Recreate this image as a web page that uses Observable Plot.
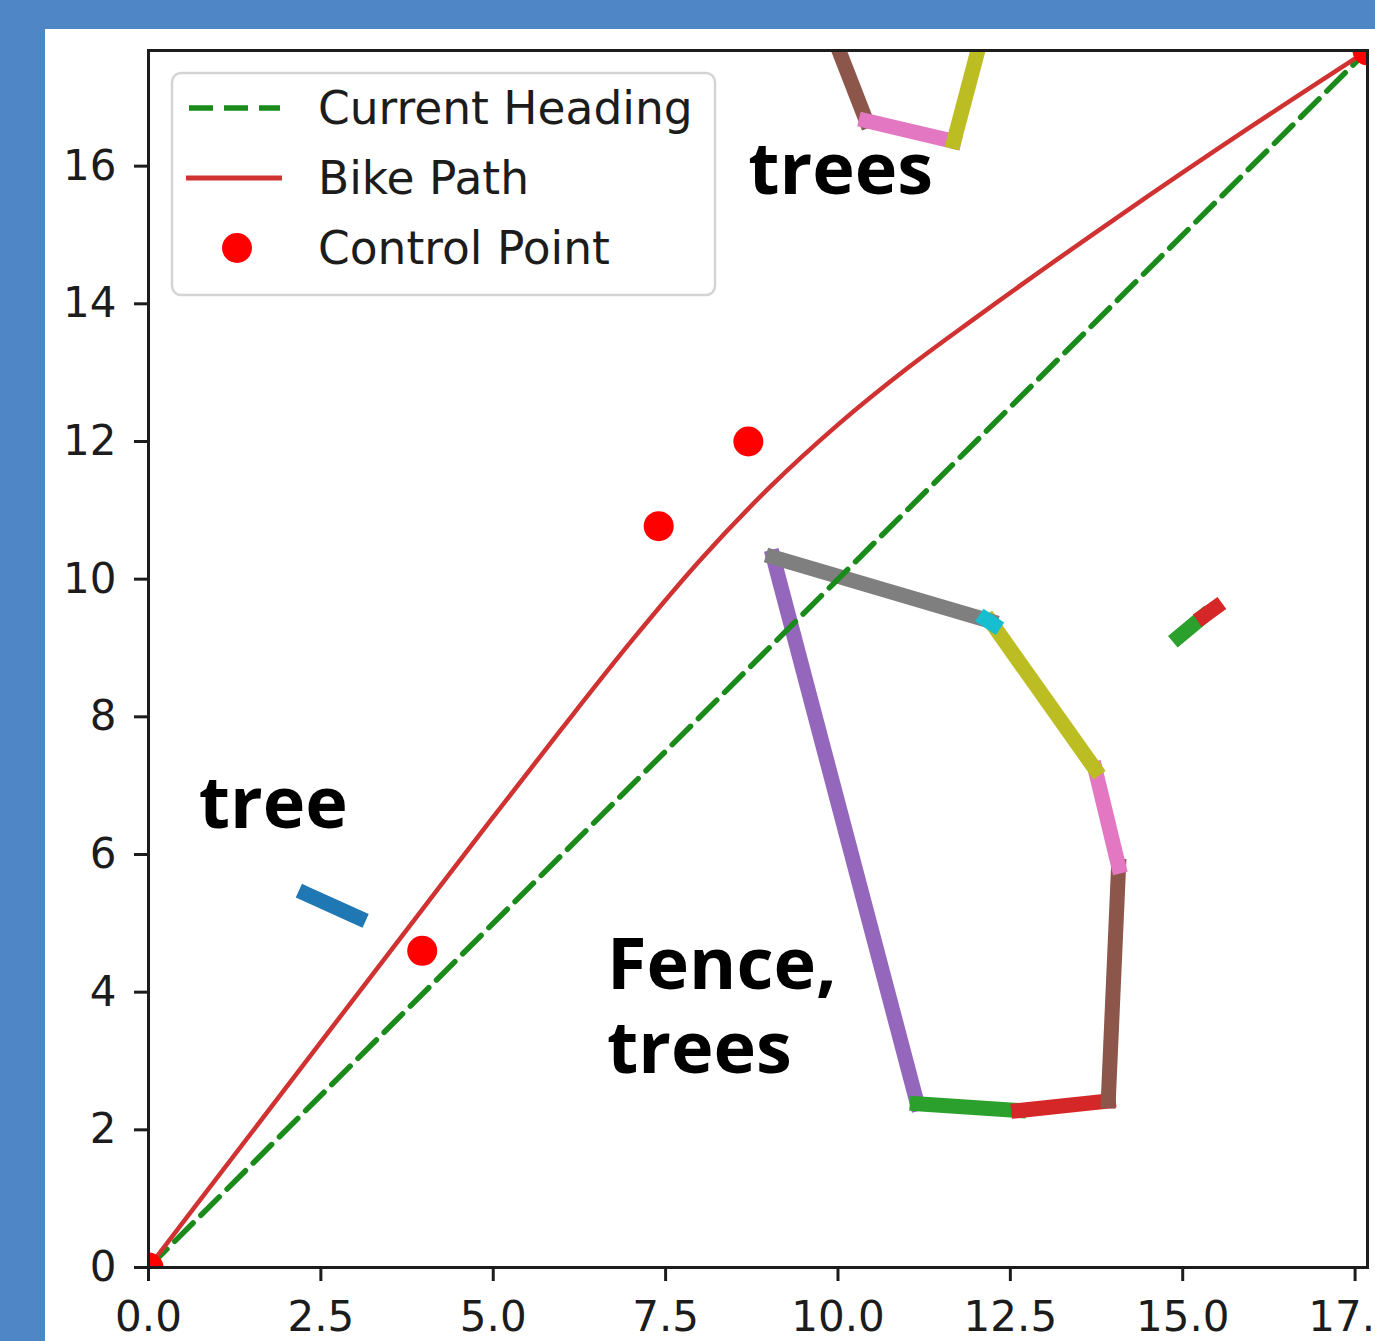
<!DOCTYPE html>
<html>
<head>
<meta charset="utf-8">
<script src="https://cdn.jsdelivr.net/npm/d3@7"></script>
<script src="https://cdn.jsdelivr.net/npm/@observablehq/plot@0.6"></script>
<style>
  html, body { margin: 0; padding: 0; }
  body { background: #4e86c6; width: 1375px; height: 1341px; overflow: hidden; position: relative; }
  #panel { position: absolute; left: 45px; top: 29px; width: 1330px; height: 1312px; background: #fff; }
  #legend { position: absolute; left: 0; top: 0; width: 1375px; height: 1341px; pointer-events: none; }
</style>
</head>
<body>
<div id="panel"></div>
<svg id="legend" xmlns="http://www.w3.org/2000/svg"></svg>
<script>
// ---------- data ----------
const xTicks = [0, 2.5, 5, 7.5, 10, 12.5, 15, 17.5];
const yTicks = [0, 2, 4, 6, 8, 10, 12, 14, 16];
const axisMax = 17.68;

// current heading (straight line start -> goal)
const headingX = [0, 17.68];
const headingY = [0, 17.68];

// bike path
const pathX = [0, 2, 4, 5, 6, 7, 8, 9, 10, 11, 12, 14, 16, 17.68];
const pathY = [0, 2.62, 5.24, 6.545, 7.835, 9.095, 10.275, 11.325, 12.245, 13.06, 13.80, 15.22, 16.58, 17.68];

// control points (incl. start and goal)
const controlX = [0, 3.97, 7.40, 8.70, 17.68];
const controlY = [0, 4.60, 10.77, 12.00, 17.68];

// obstacle segments, colour = matplotlib cycle index (C0..C9)
const segX1 = [2.28, 11.15, 12.62, 13.92, 14.07, 13.73, 12.21, 9.06, 12.14, 14.94, 15.30, 9.85, 10.41, 11.68];
const segY1 = [5.43, 2.38, 2.28, 2.42, 5.83, 7.24, 9.39, 10.32, 9.42, 9.16, 9.46, 18.10, 16.66, 16.36];
const segX2 = [3.05, 9.06, 11.15, 12.62, 13.92, 14.07, 13.73, 12.21, 12.26, 15.30, 15.48, 10.41, 11.68, 12.14];
const segY2 = [5.08, 10.32, 2.38, 2.28, 2.42, 5.83, 7.24, 9.39, 9.34, 9.46, 9.59, 16.66, 16.36, 18.10];
const segC  = [0, 4, 2, 3, 5, 6, 8, 7, 9, 2, 3, 5, 6, 8];

// annotations
const noteText = ["trees", "tree", "Fence,\ntrees"];
const noteX = [8.70, 0.73, 6.65];
const noteY = [15.98, 6.77, 3.83];

const legendLabels = ["Current Heading", "Bike Path", "Control Point"];

const tab10 = ["#1f77b4", "#ff7f0e", "#2ca02c", "#d62728", "#9467bd", "#8c564b", "#e377c2", "#7f7f7f", "#bcbd22", "#17becf"];

// ---------- tables ----------
const heading = headingX.map((x, i) => ({x, y: headingY[i]}));
const path = pathX.map((x, i) => ({x, y: pathY[i]}));
const controls = controlX.map((x, i) => ({x, y: controlY[i]}));
const segments = segX1.map((x1, i) => ({x1, y1: segY1[i], x2: segX2[i], y2: segY2[i], c: segC[i]}));
const notes = noteText.map((t, i) => ({t, x: noteX[i], y: noteY[i]}));

const INK = "#1c1c1c";
const GREEN = "#1a8a1a";
const PATHRED = "#d03232";

const chart = Plot.plot({
  width: 1330,
  height: 1312,
  marginLeft: 103,
  marginRight: 8,
  marginTop: 21,
  marginBottom: 74,
  style: {background: "transparent", fontFamily: "DejaVu Sans", color: INK, overflow: "visible"},
  x: {domain: [0, axisMax]},
  y: {domain: [0, axisMax]},
  color: {type: "ordinal", domain: d3.range(10), range: tab10},
  marks: [
    Plot.link(segments, {x1: "x1", y1: "y1", x2: "x2", y2: "y2", stroke: "c", strokeWidth: 15, strokeLinecap: "square", clip: true}),
    Plot.line(heading, {x: "x", y: "y", stroke: GREEN, strokeWidth: 5.5, strokeDasharray: "26,11", clip: true}),
    Plot.line(path, {x: "x", y: "y", stroke: PATHRED, strokeWidth: 4.5, curve: "monotone-x", clip: true}),
    Plot.dot(controls, {x: "x", y: "y", r: 15, fill: "#ff0000", stroke: "none", clip: true}),
    Plot.text(notes, {x: "x", y: "y", text: "t", textAnchor: "start", lineAnchor: "middle", lineHeight: 1.17, fontSize: 72, fontWeight: "bold", fontFamily: "Open Sans", fill: "#000"}),
    Plot.frame({stroke: INK, strokeWidth: 3}),
    Plot.axisX({ticks: xTicks, tickFormat: d => d.toFixed(1), fontSize: 42, tickSize: 14, tickPadding: 20, strokeWidth: 3, label: null}),
    Plot.axisY({ticks: yTicks, tickFormat: d => String(d), fontSize: 42, tickSize: 14, tickPadding: 18, strokeWidth: 3, label: null})
  ]
});
document.getElementById("panel").appendChild(chart);

// ---------- legend (inside axes, upper left) ----------
const lg = d3.select("#legend");
lg.append("rect").attr("x", 172).attr("y", 73).attr("width", 543).attr("height", 222)
  .attr("rx", 9).attr("fill", "rgba(255,255,255,0.85)").attr("stroke", "#d4d4d4").attr("stroke-width", 2.5);
const rowY = [108, 178, 248];
lg.append("line").attr("x1", 189).attr("x2", 280).attr("y1", rowY[0]).attr("y2", rowY[0])
  .attr("stroke", GREEN).attr("stroke-width", 5.5).attr("stroke-dasharray", "24,11");
lg.append("line").attr("x1", 186).attr("x2", 282).attr("y1", rowY[1]).attr("y2", rowY[1])
  .attr("stroke", PATHRED).attr("stroke-width", 5);
lg.append("circle").attr("cx", 237).attr("cy", rowY[2]).attr("r", 15).attr("fill", "#ff0000");
legendLabels.forEach((t, i) => {
  lg.append("text").attr("x", 318).attr("y", rowY[i]).attr("dy", "0.36em")
    .attr("font-family", "DejaVu Sans").attr("font-size", 45.5).attr("fill", INK).text(t);
});
</script>
</body>
</html>
